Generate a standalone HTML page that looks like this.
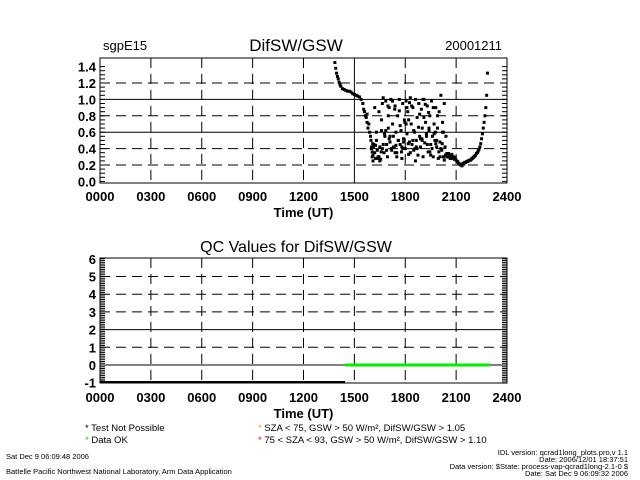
<!DOCTYPE html>
<html><head><meta charset="utf-8"><style>
body{margin:0;background:#fff;}
svg{display:block;font-family:"Liberation Sans",sans-serif;}
</style></head><body>
<svg id="chart" width="640" height="480" viewBox="0 0 640 480">
<text x="103" y="50" font-size="13">sgpE15</text>
<text x="296" y="51" font-size="17" text-anchor="middle">DifSW/GSW</text>
<text x="502" y="50" font-size="13" text-anchor="end">20001211</text>
<text x="296" y="252" font-size="16" text-anchor="middle">QC Values for DifSW/GSW</text>
<g id="top"></g>
<g id="bot"></g>
<g font-size="9.5">
<text x="85" y="431"><tspan fill="#000">*</tspan>  Test Not Possible</text>
<text x="85" y="443"><tspan fill="#00dd00">*</tspan>  Data OK</text>
<text x="258" y="431"><tspan fill="#ff9900">*</tspan>  SZA &lt; 75, GSW &gt; 50 W/m², DifSW/GSW &gt; 1.05</text>
<text x="258" y="443"><tspan fill="#ff0000">*</tspan>  75 &lt; SZA &lt; 93, GSW &gt; 50 W/m², DifSW/GSW &gt; 1.10</text>
</g>
<g font-size="7.5">
<text x="6" y="459">Sat Dec  9 06:09:48 2006</text>
<text x="6" y="474">Battelle Pacific Northwest National Laboratory, Arm Data Application</text>
<text x="628" y="455" text-anchor="end">IDL version: qcrad1long_plots.pro,v 1.1</text>
<text x="628" y="462" text-anchor="end">Date: 2006/12/01 18:37:51</text>
<text x="628" y="469" text-anchor="end">Data version: $State: process-vap-qcrad1long-2.1-0 $</text>
<text x="628" y="476" text-anchor="end">Date: Sat Dec  9 06:09:32 2006</text>
</g>
</svg>
<script>
const xTickLabels=["0000","0300","0600","0900","1200","1500","1800","2100","2400"];
const topYTicks=[0,0.2,0.4,0.6,0.8,1.0,1.2,1.4];
const botYTicks=[-1,0,1,2,3,4,5,6];
const ratioTimes=[13.85,13.9,13.95,14.0,14.05,14.1,14.15,14.2,14.3,14.4,14.5,14.6,14.7,14.8,14.9,15.0,15.1,15.2,15.3,15.4,15.5,15.55,15.6,15.65,15.7,15.75,15.8,15.9,
16.0,16.05,16.1,16.15,16.2,16.25,16.3,16.35,16.4,16.45,16.5,16.55,16.6,16.65,16.7,16.75,16.8,16.85,16.9,16.95,17.0,17.05,17.1,17.15,17.2,17.25,17.3,17.35,17.4,17.45,17.5,17.55,17.6,17.65,17.7,17.75,17.8,17.85,17.9,17.95,18.0,18.05,18.1,18.15,18.2,18.25,18.3,18.35,18.4,18.45,18.5,18.55,18.6,18.65,18.7,18.75,18.8,18.85,18.9,18.95,19.0,19.05,19.1,19.15,19.2,19.25,19.3,19.35,19.4,19.45,19.5,19.55,19.6,19.65,19.7,19.75,19.8,19.85,19.9,19.95,20.0,20.05,20.1,20.15,20.2,20.25,20.3,20.35,20.4,20.45,
16.1,16.3,16.5,16.7,16.9,17.1,17.3,17.5,17.7,17.9,18.1,18.3,18.5,18.7,18.9,19.1,19.3,19.5,19.7,19.9,20.1,20.3,
16.2,16.6,17.0,17.4,17.8,18.2,18.6,19.0,19.4,19.8,20.2,
16.05,16.25,16.45,16.65,16.85,17.05,17.25,17.45,17.65,17.85,18.05,18.25,18.45,18.65,18.85,19.05,19.25,19.45,19.65,19.85,20.05,20.25,20.45,
16.12,16.38,16.58,16.78,16.98,17.18,17.38,17.58,17.78,17.98,18.18,18.38,18.58,18.78,18.98,19.18,19.38,19.58,19.78,19.98,20.18,20.38,
15.95,15.98,16.02,16.08,15.85,15.75,
20.5,20.6,20.7,20.8,20.9,21.0,21.1,21.2,21.3,21.4,21.5,21.6,21.7,21.8,21.9,22.0,22.1,22.2,22.3,22.4,22.45,22.5,22.55,22.6,22.65,22.7,22.75,22.8,22.85,
20.55,20.65,20.75,20.85,20.95,21.05,21.15,21.25,21.35,21.45,21.55,21.65,21.75,21.85,21.95,22.05,22.15,22.25,22.35];
const ratioValues=[1.45,1.38,1.32,1.28,1.25,1.21,1.18,1.16,1.13,1.12,1.11,1.1,1.1,1.09,1.07,1.06,1.05,1.04,1.03,1.0,0.95,0.88,0.85,0.8,0.78,0.72,0.65,0.6,
0.4,0.3,0.25,0.45,0.35,0.28,0.5,0.38,0.3,0.85,0.42,0.27,0.75,0.95,1.02,0.35,0.55,0.98,0.45,0.3,0.65,0.9,0.48,1.0,0.38,0.7,0.55,0.42,0.92,0.6,0.35,0.8,0.5,1.0,0.45,0.62,0.28,0.95,0.52,0.75,0.4,0.98,0.58,0.85,0.33,0.48,1.02,0.7,0.45,0.9,0.38,0.6,1.0,0.5,0.78,0.32,0.95,0.55,0.42,0.88,0.65,0.3,1.0,0.47,0.72,0.58,0.92,0.36,0.62,0.8,0.45,0.98,0.55,0.3,0.7,0.5,0.9,0.42,0.65,0.28,0.85,0.48,1.05,0.38,0.6,0.3,0.95,0.42,0.55,0.34,
0.32,0.6,0.25,0.45,0.38,0.55,0.42,0.3,0.68,0.48,0.9,0.35,0.62,0.4,0.52,0.78,0.45,0.32,0.58,0.8,0.4,0.26,
0.9,0.62,0.8,0.35,0.42,0.75,0.25,0.5,0.65,0.46,0.72,
0.36,0.44,0.3,0.4,0.62,0.52,0.98,0.44,0.86,0.4,0.7,0.96,0.5,0.42,0.82,1.0,0.55,0.36,0.9,0.5,0.3,0.6,0.3,
0.42,0.28,0.36,0.58,0.92,0.4,0.88,0.5,0.36,0.72,0.46,0.92,0.4,0.66,0.52,0.94,0.84,0.4,0.6,0.36,0.46,0.32,
0.55,0.5,0.42,0.46,0.7,0.82,
0.3,0.32,0.3,0.28,0.27,0.26,0.24,0.21,0.2,0.22,0.23,0.24,0.25,0.26,0.27,0.29,0.31,0.34,0.37,0.42,0.46,0.52,0.58,0.65,0.72,0.8,0.9,1.05,1.32,
0.34,0.28,0.33,0.3,0.29,0.24,0.22,0.2,0.19,0.21,0.23,0.24,0.25,0.26,0.28,0.3,0.32,0.35,0.39];
const qcStart=[0,14.45];
const qcEnd=[14.45,23.0];
const qcValues=[-1,0];
const qcColors=["#000000","#00ee00"];

const NS="http://www.w3.org/2000/svg";
function mk(tag,attrs,parent){const e=document.createElementNS(NS,tag);for(const k in attrs)e.setAttribute(k,attrs[k]);parent.appendChild(e);return e;}
const L=100,R=507;
const xs=h=>L+(R-L)*h/24;
function frame(g,top,bot,ys,yTicks,yMin,yMax,minorStep,labY,name,solidX,solidY){
  for(let i=0;i<xTickLabels.length;i++){
    const x=xs(i*3);
    if(i>0&&i<8){const a={x1:x,x2:x,y1:top,y2:bot,stroke:'#000','stroke-width':1};if(!solidX.includes(i))a['stroke-dasharray']='10,6';
    const gl=mk('line',a,g);
    
    }
    const t=mk('text',{x:x,y:labY,'font-size':13,'font-weight':'bold','text-anchor':'middle'},g);t.textContent=xTickLabels[i];
    
    
  }
  yTicks.forEach(v=>{
    const y=ys(v);
    if(v>yMin&&v<yMax){const a={x1:L,x2:R,y1:y,y2:y,stroke:'#000'};if(!solidY.includes(v))a['stroke-dasharray']='10,6';
    const gl=mk('line',a,g);
    
    }
    const t=mk('text',{x:L-4,y:y+5,'font-size':13,'font-weight':'bold','text-anchor':'end'},g);t.textContent=(name==='top'?v.toFixed(1):String(v));
    
    
  });
  for(let v=yMin;v<=yMax+1e-9;v+=minorStep){const y=ys(v);
    mk('line',{x1:L,x2:L+5,y1:y,y2:y,stroke:'#000'},g);mk('line',{x1:R-5,x2:R,y1:y,y2:y,stroke:'#000'},g);}
  const f=mk('rect',{x:L,y:top,width:R-L,height:bot-top,fill:'none',stroke:'#000','stroke-width':1},g);
  
  
  const xt=mk('text',{x:(L+R)/2,y:labY+16,'font-size':13,'font-weight':'bold','text-anchor':'middle'},g);xt.textContent='Time (UT)';
  
  
}
const tg=document.getElementById('top');
const ysTop=v=>181.4-v*82;
frame(tg,58,183,ysTop,topYTicks,0,1.4,0.05,201,'top',[5],[0.6,1.0]);
for(let i=0;i<ratioTimes.length;i++){
  const p=mk('rect',{x:xs(ratioTimes[i])-1.5,y:ysTop(ratioValues[i])-1.5,width:3,height:3,fill:'#000'},tg);
  
  
}
const bg=document.getElementById('bot');
const ysBot=v=>365-v*17.7;
frame(bg,258,383,ysBot,botYTicks,-1,6,0.1,402,'bottom',[],[2,0]);
for(let i=0;i<qcValues.length;i++){
  const y=qcValues[i]===-1?382:ysBot(qcValues[i]);
  const s=mk('line',{x1:xs(qcStart[i]),x2:xs(qcEnd[i]),y1:y,y2:y,stroke:qcColors[i],'stroke-width':qcValues[i]===-1?2:3},bg);
  
  
}
</script>
</body></html>
